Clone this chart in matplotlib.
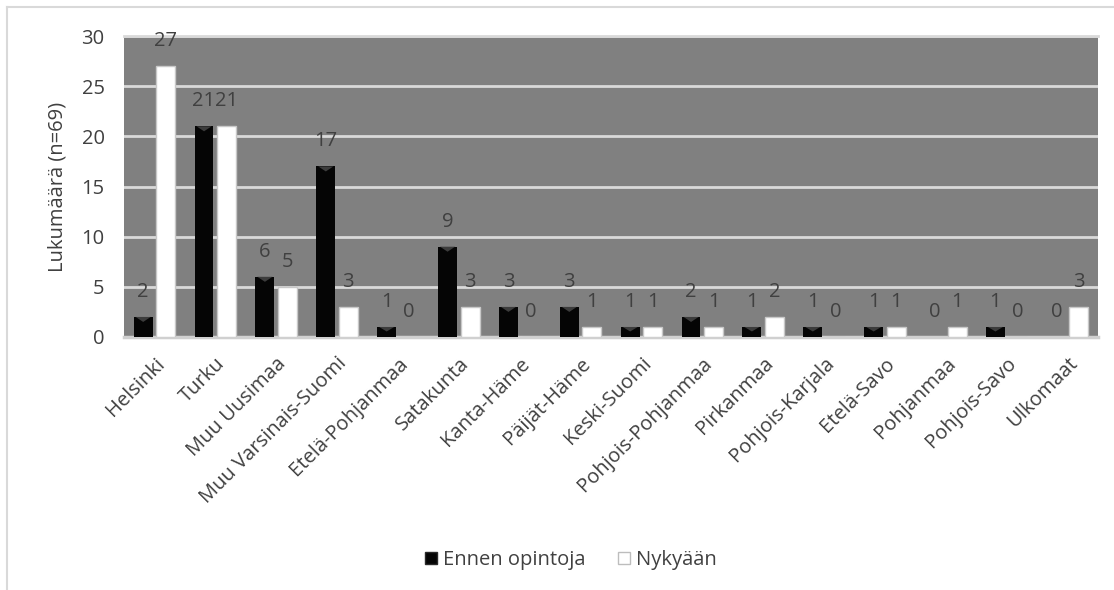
import matplotlib
matplotlib.use("Agg")
import matplotlib.pyplot as plt
from matplotlib.lines import Line2D
from matplotlib.patches import Patch, Polygon
import numpy as np

categories = ["Helsinki", "Turku", "Muu Uusimaa", "Muu Varsinais-Suomi", "Etelä-Pohjanmaa",
              "Satakunta", "Kanta-Häme", "Päijät-Häme", "Keski-Suomi", "Pohjois-Pohjanmaa",
              "Pirkanmaa", "Pohjois-Karjala", "Etelä-Savo", "Pohjanmaa", "Pohjois-Savo", "Ulkomaat"]
ennen = [2, 21, 6, 17, 1, 9, 3, 3, 1, 2, 1, 1, 1, 0, 1, 0]
nykyaan = [27, 21, 5, 3, 0, 3, 0, 1, 1, 1, 2, 0, 1, 1, 0, 3]
series_names = ["Ennen opintoja", "Nykyään"]
yticks = [0, 5, 10, 15, 20, 25, 30]
ylabel = "Lukumäärä (n=69)"

plt.rcParams['font.family'] = ['Open Sans', 'DejaVu Sans']
txt = '#404040'
fs = 14.5

W, H = 1114, 590
fig = plt.figure(figsize=(W/100, H/100), dpi=100)
ax = fig.add_axes([124/W, 1-337/H, (1098-124)/W, (337-36)/H])
ax.set_facecolor('#808080')

x = np.arange(len(categories))
bw = 0.31
off = 0.185
bars1 = ax.bar(x - off, ennen, bw, color='#050505', linewidth=0, zorder=3)
bars2 = ax.bar(x + off, nykyaan, bw, color='#ffffff', edgecolor='#c8c8c8', linewidth=1, zorder=3)

# bevel-like dark-gray triangle at the top of each black bar
for p in bars1:
    h = p.get_height()
    if h <= 0:
        continue
    x0, w = p.get_x(), p.get_width()
    th = min(0.5, h * 0.45)
    tri = Polygon([(x0 + 0.1 * w, h), (x0 + 0.9 * w, h), (x0 + 0.5 * w, h - th)],
                  closed=True, facecolor='#3c3c3c', edgecolor='none', zorder=4)
    ax.add_patch(tri)

for xi, v in zip(x - off, ennen):
    ax.annotate(str(v), (xi, v), xytext=(0, 18), textcoords='offset points',
                ha='center', va='center', fontsize=fs, color=txt)
for xi, v in zip(x + off, nykyaan):
    ax.annotate(str(v), (xi, v), xytext=(0, 18), textcoords='offset points',
                ha='center', va='center', fontsize=fs, color=txt)

ax.set_xlim(-0.5, len(categories) - 0.5)
ax.set_ylim(0, 30)
ax.set_yticks(yticks)
ax.set_yticklabels([str(t) for t in yticks], fontsize=fs, color=txt)
ax.yaxis.grid(True, color='#d9d9d9', linewidth=2, zorder=1)
ax.set_axisbelow(True)
ax.tick_params(axis='y', length=0, pad=14)
ax.tick_params(axis='x', length=0, pad=12)
ax.set_xticks(x)
ax.set_xticklabels(categories, rotation=45, ha='right', rotation_mode='anchor',
                   fontsize=fs, color=txt)
for s in ['left', 'right']:
    ax.spines[s].set_visible(False)
ax.spines['top'].set_color('#d9d9d9')
ax.spines['top'].set_linewidth(2)
ax.spines['bottom'].set_color('#d0d0d0')
ax.spines['bottom'].set_linewidth(2.5)
ax.set_ylabel(ylabel, fontsize=fs, color=txt, labelpad=10)

handles = [Patch(facecolor='#050505', edgecolor='#2a2a2a'),
           Patch(facecolor='#ffffff', edgecolor='#bdbdbd')]
fig.legend(handles, series_names, loc='center', bbox_to_anchor=(571/W, 1-560/H),
           ncol=2, frameon=False, fontsize=fs, handlelength=0.6, handleheight=0.6,
           handletextpad=0.3, columnspacing=1.6, labelcolor=txt)

# outer frame (light gray, top and left visible)
fig.add_artist(Line2D([7/W, 1.0], [1-7/H, 1-7/H], transform=fig.transFigure, color='#d9d9d9', lw=1.5))
fig.add_artist(Line2D([7/W, 7/W], [0, 1-7/H], transform=fig.transFigure, color='#d9d9d9', lw=1.5))

fig.savefig('out.png', dpi=100)
